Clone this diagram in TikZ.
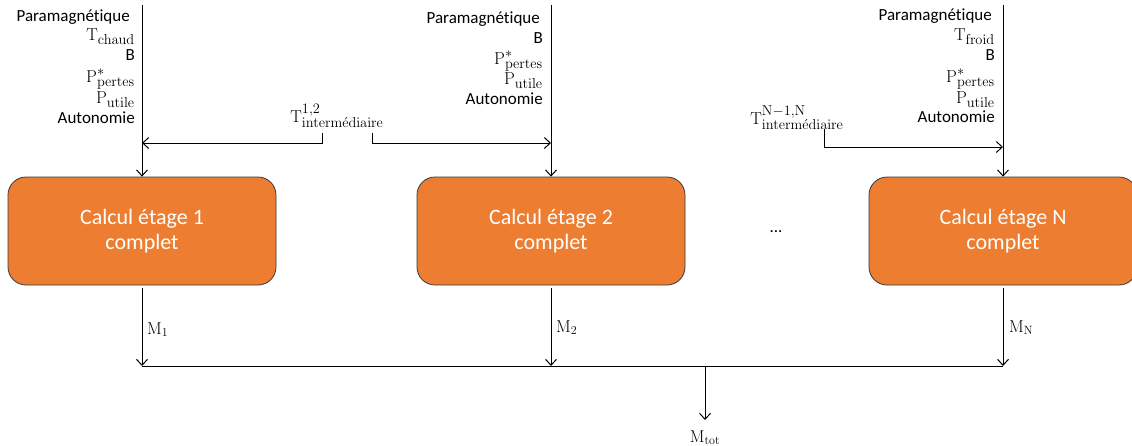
\documentclass[tikz,border=0pt]{standalone}
\usepackage[no-math]{fontspec}
\setmainfont{Carlito}[Ligatures={NoCommon}]
\usetikzlibrary{arrows.meta}
\DeclareMathSizes{17}{17}{13.5}{10}
\DeclareMathSizes{16}{16}{12.5}{9}
\definecolor{boxorange}{HTML}{ED7D31}
\definecolor{boxedge}{HTML}{3A3A3A}
\begin{document}
\begin{tikzpicture}[x=1pt,y=-1pt,
  lab/.style={font=\fontsize{17}{20}\selectfont, inner sep=0pt},
  mlab/.style={font=\fontsize{16}{19}\selectfont, inner sep=0pt},
  stagebox/.style={rectangle, rounded corners=18pt, fill=boxorange, draw=boxedge, line width=0.8pt,
    minimum width=268pt, minimum height=108pt, text=white, align=center,
    font=\fontsize{22}{25}\selectfont, inner sep=0pt},
  conn/.style={line width=1pt, black},
  arr/.style={conn, -{Straight Barb[length=6pt,width=11pt,line width=1pt]}}
]
\useasboundingbox (0,0) rectangle (1132,445);

% boxes
\node[stagebox] (b1) at (142,231) {Calcul étage 1\\complet};
\node[stagebox] (b2) at (551,231) {Calcul étage 2\\complet};
\node[stagebox] (b3) at (1003,231) {Calcul étage N\\complet};
\node[font=\fontsize{17}{20}\selectfont, inner sep=0pt] (dots) at (776,232) {...};

% top coordinates
\coordinate (top1) at (142,5);
\coordinate (top2) at (551,5);
\coordinate (top3) at (1003,5);
\draw[arr] (top1) -- (b1.north);
\draw[arr] (top2) -- (b2.north);
\draw[arr] (top3) -- (b3.north);

% left column labels
\node[lab, anchor=base east] (p1) at (130,21) {Paramagnétique};
\node[lab, anchor=base east] (t1) at (135,40) {$\mathrm{T}_{\mathrm{chaud}}$};
\node[lab, anchor=base east] (bb1) at (135,60) {B};
\node[lab, anchor=base east] (pp1) at (135,82) {$\mathrm{P}^{*}_{\mathrm{pertes}}$};
\node[lab, anchor=base east] (pu1) at (135,103) {$\mathrm{P}_{\mathrm{utile}}$};
\node[lab, anchor=base east] (au1) at (135,123) {Autonomie};

% middle column labels
\node[lab, anchor=base east] (p2) at (540,23) {Paramagnétique};
\node[lab, anchor=base east] (bb2) at (543,43) {B};
\node[lab, anchor=base east] (pp2) at (543,64) {$\mathrm{P}^{*}_{\mathrm{pertes}}$};
\node[lab, anchor=base east] (pu2) at (543,84) {$\mathrm{P}_{\mathrm{utile}}$};
\node[lab, anchor=base east] (au2) at (543,104) {Autonomie};

% right column labels
\node[lab, anchor=base east] (p3) at (992,20) {Paramagnétique};
\node[lab, anchor=base east] (t3) at (995,40) {$\mathrm{T}_{\mathrm{froid}}$};
\node[lab, anchor=base east] (bb3) at (995,60) {B};
\node[lab, anchor=base east] (pp3) at (995,82) {$\mathrm{P}^{*}_{\mathrm{pertes}}$};
\node[lab, anchor=base east] (pu3) at (995,103) {$\mathrm{P}_{\mathrm{utile}}$};
\node[lab, anchor=base east] (au3) at (995,122) {Autonomie};

% intermediate temperatures
\node[lab, anchor=base] (ti12) at (337,122) {$\mathrm{T}^{1,2}_{\mathrm{interm\acute{e}diaire}}$};
\node[lab, anchor=base] (tin) at (797,124) {$\mathrm{T}^{\mathrm{N}-1,\mathrm{N}}_{\mathrm{interm\acute{e}diaire}}$};

\coordinate (s12a) at (322,133);
\coordinate (s12b) at (372,133);
\coordinate (sn) at (824,129);
\coordinate (j1) at (142,143);
\coordinate (j2) at (551,143);
\coordinate (j3) at (1003,147);
\draw[arr] (s12a) |- (j1);
\draw[arr] (s12b) |- (j2);
\draw[arr] (sn) |- (j3);

% bottom
\coordinate (m1) at (142,366);
\coordinate (m2) at (551,366);
\coordinate (m3) at (1003,366);
\coordinate (mt) at (705,366);
\coordinate (mtot) at (705,420);
\draw[arr] ([yshift=-3pt]b1.south) -- (m1);
\draw[arr] ([yshift=-3pt]b2.south) -- (m2);
\draw[arr] ([yshift=-3pt]b3.south) -- (m3);
\draw[conn] (m1) -- (m3);
\draw[arr] (mt) -- (mtot);

\node[mlab, anchor=base west] (lm1) at (147,334) {$\mathrm{M}_{1}$};
\node[mlab, anchor=base west] (lm2) at (556,332) {$\mathrm{M}_{2}$};
\node[mlab, anchor=base west] (lm3) at (1009,332) {$\mathrm{M}_{\mathrm{N}}$};
\node[mlab, anchor=base] (lmt) at (705,442) {$\mathrm{M}_{\mathrm{tot}}$};
\end{tikzpicture}
\end{document}
